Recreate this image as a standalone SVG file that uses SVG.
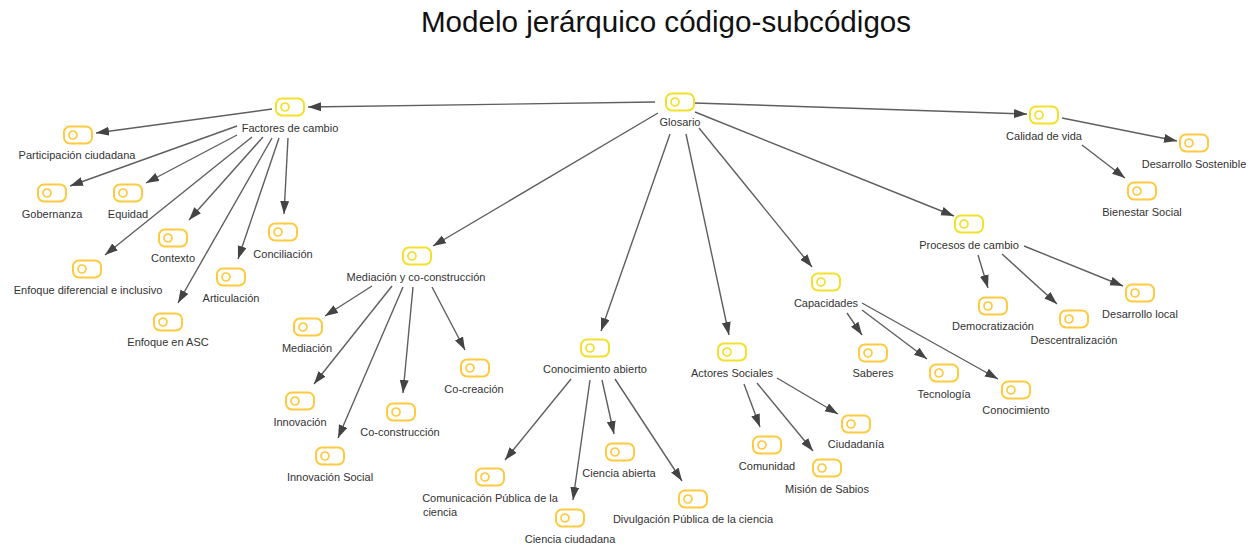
<svg xmlns="http://www.w3.org/2000/svg" width="1252" height="546" viewBox="0 0 1252 546">
<style>
text{font-family:"Liberation Sans",Arial,sans-serif;font-size:11px;fill:#333;text-anchor:middle}
.title{font-size:29.600px;fill:#111}
use{stroke:#fdca40}
.root use,.mid use{stroke:#f3e02c}
.box{fill:#fff;stroke-width:2}
.dot{fill:none;stroke-width:1.7}
#connectors line{stroke:#5f5f5f;stroke-width:1.4;marker-end:url(#arrow)}
</style>
<defs>
<marker id="arrow" markerUnits="userSpaceOnUse" markerWidth="15" markerHeight="11" refX="13" refY="4.500" orient="auto"><path d="M0,0L13,4.500L0,9Z" fill="#444"/></marker>
<g id="icon"><rect class="box" x="-14" y="-8.500" width="28" height="17" rx="6"/><circle class="dot" cx="-5" cy="0" r="4"/></g>
</defs>
<rect width="1252" height="546" fill="#fff"/>
<text class="title" x="666" y="32">Modelo jerárquico código-subcódigos</text>
<g id="connectors">
<line x1="655" y1="102" x2="308" y2="107"/>
<line x1="694" y1="103" x2="1027" y2="114"/>
<line x1="658" y1="113" x2="433" y2="246"/>
<line x1="670" y1="134" x2="601" y2="331"/>
<line x1="686" y1="134" x2="729" y2="335"/>
<line x1="699" y1="128" x2="812" y2="267"/>
<line x1="695" y1="112" x2="954" y2="216"/>
<line x1="272" y1="109" x2="96" y2="133"/>
<line x1="237" y1="126" x2="70" y2="186"/>
<line x1="237" y1="135" x2="146" y2="183"/>
<line x1="252" y1="137" x2="105" y2="255"/>
<line x1="263" y1="137" x2="189" y2="220"/>
<line x1="272" y1="138" x2="178" y2="303"/>
<line x1="279" y1="138" x2="238" y2="259"/>
<line x1="288" y1="138" x2="284" y2="214"/>
<line x1="372" y1="286" x2="325" y2="316"/>
<line x1="392" y1="286" x2="314" y2="384"/>
<line x1="403" y1="287" x2="338" y2="438"/>
<line x1="413" y1="287" x2="403" y2="393"/>
<line x1="432" y1="287" x2="465" y2="350"/>
<line x1="571" y1="379" x2="505" y2="460"/>
<line x1="590" y1="380" x2="573" y2="500"/>
<line x1="602" y1="380" x2="614" y2="434"/>
<line x1="615" y1="379" x2="682" y2="481"/>
<line x1="744" y1="384" x2="760" y2="427"/>
<line x1="757" y1="383" x2="813" y2="451"/>
<line x1="777" y1="378" x2="838" y2="414"/>
<line x1="847" y1="313" x2="862" y2="335"/>
<line x1="862" y1="310" x2="927" y2="359"/>
<line x1="862" y1="303" x2="998" y2="379"/>
<line x1="978" y1="255" x2="988" y2="288"/>
<line x1="1002" y1="254" x2="1057" y2="304"/>
<line x1="1024" y1="246" x2="1123" y2="286"/>
<line x1="1062" y1="118" x2="1177" y2="141"/>
<line x1="1082" y1="145" x2="1125" y2="178"/>
</g>
<g id="n-glosario" class="root"><use href="#icon" x="680" y="102"/><text x="680" y="126">Glosario</text></g>
<g id="n-factores" class="mid"><use href="#icon" x="290" y="107"/><text x="290" y="132">Factores de cambio</text></g>
<g id="n-participacion"><use href="#icon" x="78" y="135"/><text x="77" y="159">Participación ciudadana</text></g>
<g id="n-gobernanza"><use href="#icon" x="52" y="193"/><text x="52" y="218">Gobernanza</text></g>
<g id="n-equidad"><use href="#icon" x="128" y="193"/><text x="128" y="218">Equidad</text></g>
<g id="n-contexto"><use href="#icon" x="173" y="238"/><text x="173" y="262">Contexto</text></g>
<g id="n-conciliacion"><use href="#icon" x="283" y="232"/><text x="283" y="258">Conciliación</text></g>
<g id="n-enfoque-dif"><use href="#icon" x="87" y="269"/><text x="88" y="294">Enfoque diferencial e inclusivo</text></g>
<g id="n-articulacion"><use href="#icon" x="231" y="277"/><text x="231" y="302">Articulación</text></g>
<g id="n-enfoque-asc"><use href="#icon" x="168" y="322"/><text x="168" y="346">Enfoque en ASC</text></g>
<g id="n-mediacion-co" class="mid"><use href="#icon" x="417" y="256"/><text x="416" y="281">Mediación y co-construcción</text></g>
<g id="n-mediacion"><use href="#icon" x="308" y="327"/><text x="307" y="352">Mediación</text></g>
<g id="n-innovacion"><use href="#icon" x="300" y="401"/><text x="300" y="426">Innovación</text></g>
<g id="n-innovacion-social"><use href="#icon" x="330" y="456"/><text x="330" y="481">Innovación Social</text></g>
<g id="n-co-construccion"><use href="#icon" x="401" y="412"/><text x="400" y="436">Co-construcción</text></g>
<g id="n-co-creacion"><use href="#icon" x="475" y="368"/><text x="474" y="393">Co-creación</text></g>
<g id="n-conocimiento-abierto" class="mid"><use href="#icon" x="595" y="348"/><text x="595" y="373">Conocimiento abierto</text></g>
<g id="n-comunicacion"><use href="#icon" x="490" y="477"/><text x="490" y="502">Comunicación Pública de la</text><text x="440" y="516">ciencia</text></g>
<g id="n-ciencia-ciudadana"><use href="#icon" x="570" y="518"/><text x="570" y="543">Ciencia ciudadana</text></g>
<g id="n-ciencia-abierta"><use href="#icon" x="620" y="452"/><text x="619" y="477">Ciencia abierta</text></g>
<g id="n-divulgacion"><use href="#icon" x="693" y="499"/><text x="693" y="523">Divulgación Pública de la ciencia</text></g>
<g id="n-actores" class="mid"><use href="#icon" x="732" y="352"/><text x="732" y="377">Actores Sociales</text></g>
<g id="n-comunidad"><use href="#icon" x="767" y="445"/><text x="767" y="470">Comunidad</text></g>
<g id="n-mision"><use href="#icon" x="827" y="468"/><text x="827" y="493">Misión de Sabios</text></g>
<g id="n-ciudadania"><use href="#icon" x="856" y="424"/><text x="856" y="448">Ciudadanía</text></g>
<g id="n-capacidades" class="mid"><use href="#icon" x="826" y="282"/><text x="826" y="307">Capacidades</text></g>
<g id="n-saberes"><use href="#icon" x="873" y="353"/><text x="873" y="377">Saberes</text></g>
<g id="n-tecnologia"><use href="#icon" x="944" y="373"/><text x="944" y="398">Tecnología</text></g>
<g id="n-conocimiento"><use href="#icon" x="1016" y="390"/><text x="1016" y="414">Conocimiento</text></g>
<g id="n-procesos" class="mid"><use href="#icon" x="969" y="224"/><text x="969" y="249">Procesos de cambio</text></g>
<g id="n-democratizacion"><use href="#icon" x="993" y="306"/><text x="993" y="330">Democratización</text></g>
<g id="n-descentralizacion"><use href="#icon" x="1074" y="319"/><text x="1074" y="344">Descentralización</text></g>
<g id="n-desarrollo-local"><use href="#icon" x="1140" y="293"/><text x="1140" y="318">Desarrollo local</text></g>
<g id="n-calidad" class="mid"><use href="#icon" x="1044" y="115"/><text x="1044" y="140">Calidad de vida</text></g>
<g id="n-sostenible"><use href="#icon" x="1194" y="143"/><text x="1194" y="168">Desarrollo Sostenible</text></g>
<g id="n-bienestar"><use href="#icon" x="1142" y="191"/><text x="1142" y="216">Bienestar Social</text></g>
</svg>
